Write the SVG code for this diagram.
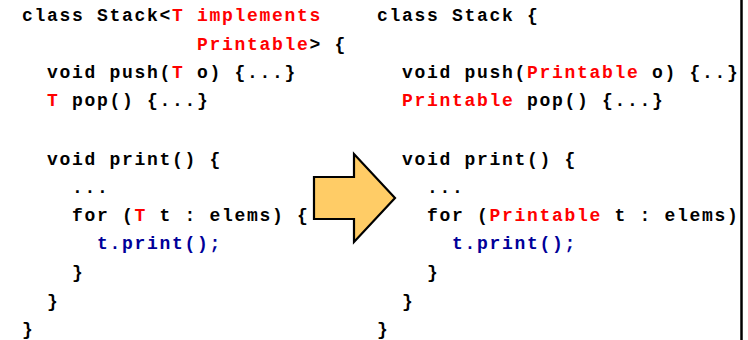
<svg xmlns="http://www.w3.org/2000/svg" width="748" height="340" viewBox="0 0 748 340">
<style>
text{font-family:"Liberation Mono","DejaVu Sans Mono",monospace;font-weight:bold;font-size:18px;letter-spacing:1.7px;fill:#000;white-space:pre}
.r{fill:#ff0000}
.b{fill:#000099}
</style>
<rect width="748" height="340" fill="#fff"/>
<g id="left-code">
<text x="22" y="21" xml:space="preserve">class Stack&lt;<tspan class="r">T implements</tspan></text>
<text x="197" y="49.5" xml:space="preserve"><tspan class="r">Printable</tspan>&gt; {</text>
<text x="47" y="78" xml:space="preserve">void push(<tspan class="r">T</tspan> o) {...}</text>
<text x="47" y="106" xml:space="preserve"><tspan class="r">T</tspan> pop() {...}</text>
<text x="47" y="165" xml:space="preserve">void print() {</text>
<text x="72" y="193" xml:space="preserve">...</text>
<text x="72" y="221" xml:space="preserve">for (<tspan class="r">T</tspan> t : elems) {</text>
<text x="97" y="249" xml:space="preserve" class="b">t.print();</text>
<text x="72" y="278" xml:space="preserve">}</text>
<text x="47" y="306.5" xml:space="preserve">}</text>
<text x="22" y="335" xml:space="preserve">}</text>
</g>
<g id="arrow">
<polygon points="314,177 354,177 354,154 395,198 354,242 354,219 314,219" fill="#ffcc66" stroke="#000" stroke-width="2.2" stroke-linejoin="miter"/>
</g>
<g id="right-code">
<text x="377" y="21" xml:space="preserve">class Stack {</text>
<text x="402" y="78" xml:space="preserve">void push(<tspan class="r">Printable</tspan> o) {..}</text>
<text x="402" y="106" xml:space="preserve"><tspan class="r">Printable</tspan> pop() {...}</text>
<text x="402" y="165" xml:space="preserve">void print() {</text>
<text x="427" y="193" xml:space="preserve">...</text>
<text x="427" y="221" xml:space="preserve">for (<tspan class="r">Printable</tspan> t : elems)</text>
<text x="452" y="249" xml:space="preserve" class="b">t.print();</text>
<text x="427" y="278" xml:space="preserve">}</text>
<text x="402" y="306.5" xml:space="preserve">}</text>
<text x="377" y="335" xml:space="preserve">}</text>
</g>
<g id="connectors">
<line x1="741.5" y1="0" x2="741.5" y2="340" stroke="#000" stroke-width="2.5"/>
</g>
</svg>
